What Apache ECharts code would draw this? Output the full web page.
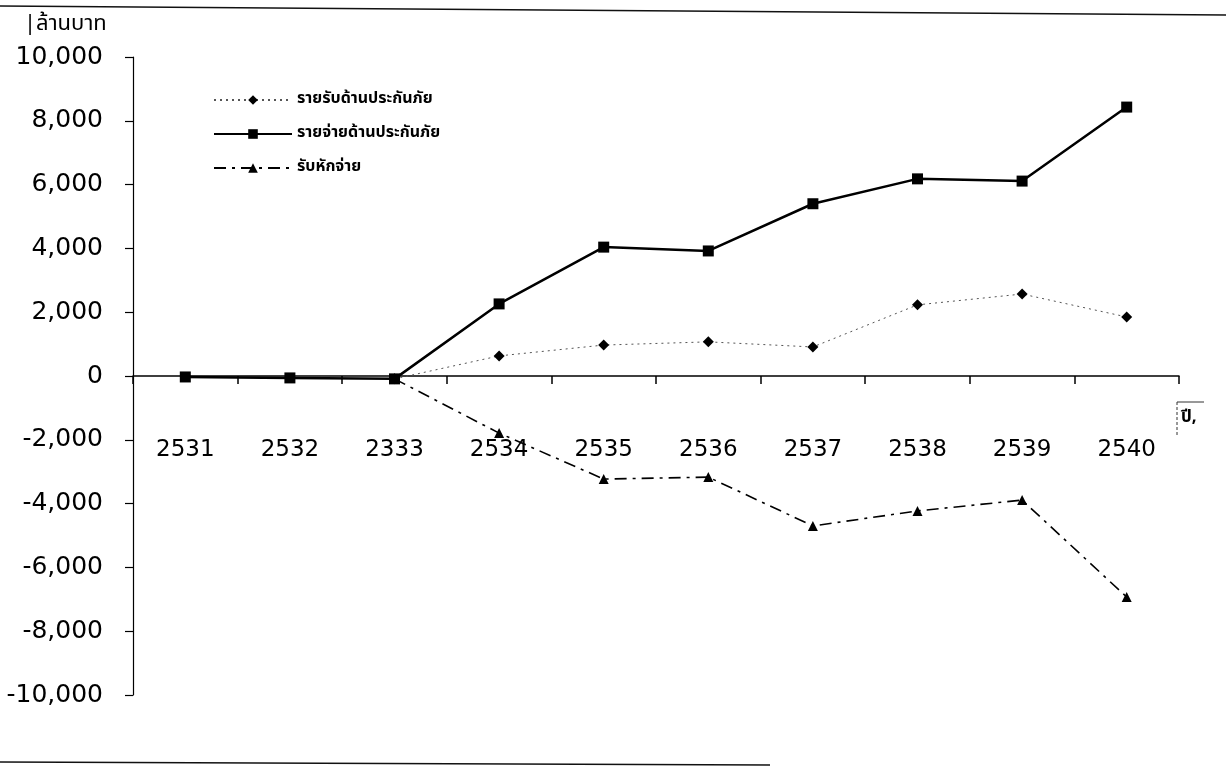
<!DOCTYPE html>
<html>
<head>
<meta charset="utf-8">
<style>
  html, body { margin: 0; padding: 0; background: #fff; }
  #chart { width: 1226px; height: 767px; }
</style>
<script src="https://cdn.jsdelivr.net/npm/echarts@6/dist/echarts.min.js"></script>
</head>
<body>
<div id="chart"></div>
<script>
// Insurance income, expense and net (million baht), by year
const years = ['2531', '2532', '2333', '2534', '2535', '2536', '2537', '2538', '2539', '2540'];
const income = [null, null, -90, 630, 970, 1070, 910, 2230, 2570, 1850];
const expense = [-30, -60, -90, 2260, 4040, 3920, 5400, 6180, 6110, 8430];
const net = [null, null, -90, -1790, -3230, -3170, -4700, -4230, -3890, -6930];

const seriesNames = ['รายรับด้านประกันภัย', 'รายจ่ายด้านประกันภัย', 'รับหักจ่าย'];
const unitLabel = '|ล้านบาท';
const yearLabel = 'ปี';

const numFont = 'DejaVu Sans, Liberation Sans, sans-serif';
const thaiFont = 'Noto Sans Thai, Tahoma, DejaVu Sans, sans-serif';

const gridTop = 57, gridBottom = 72;
const chart = echarts.init(document.getElementById('chart'));

// year labels hang a fixed distance below the zero line
const plotBottom = 767 - gridBottom;
function zeroY() {
  return chart.convertToPixel({ yAxisIndex: 0 }, 0);
}

const baseOption = {
  backgroundColor: '#fff',
  animation: false,
  grid: { left: 133, right: 47, top: gridTop, bottom: gridBottom, outerBoundsMode: 'none' },
  legend: {
    orient: 'vertical',
    left: 208,
    top: 87,
    itemWidth: 78,
    itemHeight: 12,
    itemGap: 18,
    data: seriesNames,
    textStyle: { fontFamily: thaiFont, fontSize: 16, fontWeight: 'bold', color: '#000' }
  },
  xAxis: {
    type: 'category',
    data: years,
    boundaryGap: true,
    axisLine: { onZero: true, lineStyle: { color: '#000', width: 1.5 } },
    axisTick: { show: true, length: 8, lineStyle: { color: '#000', width: 1.5 } },
    axisLabel: { margin: 60, fontFamily: numFont, fontSize: 23, color: '#000' },
    splitLine: { show: false }
  },
  yAxis: {
    type: 'value',
    min: -10000,
    max: 10000,
    interval: 2000,
    axisLine: { show: true, lineStyle: { color: '#000', width: 1.2 } },
    axisTick: { show: true, length: 8, lineStyle: { color: '#000', width: 1.2 } },
    axisLabel: {
      margin: 30,
      fontFamily: numFont,
      fontSize: 25,
      color: '#000',
      formatter: v => v.toLocaleString('en-US')
    },
    splitLine: { show: false }
  },
  series: [
    {
      name: seriesNames[0],
      type: 'line',
      data: income,
      symbol: 'diamond',
      symbolSize: 11,
      itemStyle: { color: '#000' },
      lineStyle: { color: '#555', width: 1, type: [2, 4] },
      z: 2
    },
    {
      name: seriesNames[1],
      type: 'line',
      data: expense,
      symbol: 'rect',
      symbolSize: 11,
      itemStyle: { color: '#000' },
      lineStyle: { color: '#000', width: 2.5 },
      z: 4
    },
    {
      name: seriesNames[2],
      type: 'line',
      data: net,
      symbol: 'triangle',
      symbolSize: 10,
      itemStyle: { color: '#000' },
      lineStyle: { color: '#000', width: 1.6, type: [12, 6, 3, 6] },
      z: 3
    }
  ],
  graphic: [
    // page edges above and below the figure
    { type: 'line', shape: { x1: 0, y1: 6, x2: 1226, y2: 15 }, style: { stroke: '#111', lineWidth: 1.5 } },
    { type: 'line', shape: { x1: 0, y1: 762, x2: 770, y2: 765 }, style: { stroke: '#111', lineWidth: 1.5 } },
    // unit of the value axis
    {
      type: 'text', left: 24, top: 15,
      style: { text: unitLabel, font: '22px ' + thaiFont, fill: '#000' }
    },
    // year marker at the end of the category axis
    { type: 'line', shape: { x1: 1177, y1: 402, x2: 1204, y2: 402 }, style: { stroke: '#333', lineWidth: 1 } },
    { type: 'line', shape: { x1: 1177, y1: 402, x2: 1177, y2: 436 }, style: { stroke: '#333', lineWidth: 1, lineDash: [3, 2] } },
    {
      type: 'text', left: 1181, top: 410,
      style: { text: yearLabel + ',', font: 'bold 17px ' + thaiFont, fill: '#000' }
    }
  ]
};

chart.setOption(baseOption);
// place the category labels about 63px under the zero line
const labelGap = 63;
chart.setOption({ xAxis: { axisLabel: { margin: labelGap - (plotBottom - zeroY()) } } });
</script>
</body>
</html>
